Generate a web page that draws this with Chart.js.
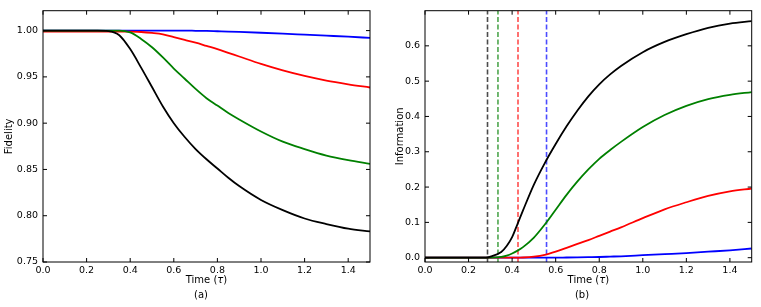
<!DOCTYPE html>
<html><head><meta charset="utf-8">
<script src="https://cdn.jsdelivr.net/npm/chart.js@4/dist/chart.umd.min.js"></script>
<style>
html,body{margin:0;padding:0;background:#fff;}
#wrap{position:relative;width:761px;height:307px;overflow:hidden;}
.box{position:absolute;top:0;height:307px;}
.cap{position:absolute;font:10px "DejaVu Sans",sans-serif;line-height:12px;color:#000;top:289px;width:40px;text-align:center;}
</style></head><body>
<div id="wrap">
<div class="box" style="left:0;width:380px"><canvas id="c1" width="380" height="307"></canvas></div>
<div class="box" style="left:380px;width:381px"><canvas id="c2" width="381" height="307"></canvas></div>
<div class="cap" style="left:181px">(a)</div>
<div class="cap" style="left:562px">(b)</div>
</div>
<script>
// ---- data ----
const TIME_FID = [0, 0.1, 0.2, 0.25, 0.3, 0.35, 0.4, 0.45, 0.5, 0.55, 0.6, 0.65, 0.7, 0.75, 0.8, 0.85, 0.9, 1.0, 1.1, 1.2, 1.3, 1.4, 1.5];
const FID_BLACK = [1, 1, 1, 1, 0.9995, 0.995, 0.980, 0.960, 0.939, 0.918, 0.900, 0.885, 0.872, 0.861, 0.851, 0.841, 0.832, 0.817, 0.806, 0.797, 0.791, 0.786, 0.783];
const FID_GREEN = [1, 1, 1, 1, 1, 1, 0.998, 0.991, 0.982, 0.971, 0.959, 0.948, 0.937, 0.927, 0.919, 0.911, 0.904, 0.891, 0.880, 0.872, 0.865, 0.860, 0.856];
const FID_RED   = [0.999, 0.999, 0.999, 0.999, 0.999, 0.999, 0.999, 0.9985, 0.9975, 0.996, 0.993, 0.990, 0.987, 0.9835, 0.980, 0.976, 0.972, 0.964, 0.957, 0.951, 0.946, 0.942, 0.9385];
const FID_BLUE  = [1, 1, 1, 1, 1, 1, 1, 1, 1, 1, 1, 1, 0.9998, 0.9996, 0.9993, 0.999, 0.9986, 0.9977, 0.9967, 0.9956, 0.9945, 0.9934, 0.9921];

const TIME_INFO = [0, 0.1, 0.2, 0.25, 0.28, 0.3, 0.35, 0.375, 0.4, 0.425, 0.45, 0.5, 0.55, 0.6, 0.65, 0.7, 0.75, 0.8, 0.85, 0.9, 1.0, 1.1, 1.2, 1.3, 1.4, 1.5];
const INFO_BLACK = [0, 0, 0, 0, 0, 0.003, 0.016, 0.033, 0.058, 0.096, 0.134, 0.207, 0.268, 0.322, 0.372, 0.417, 0.457, 0.491, 0.519, 0.543, 0.582, 0.611, 0.633, 0.651, 0.663, 0.670];
const INFO_GREEN = [0, 0, 0, 0, 0, 0, 0.002, 0.006, 0.012, 0.020, 0.030, 0.057, 0.094, 0.136, 0.178, 0.216, 0.250, 0.280, 0.305, 0.328, 0.370, 0.404, 0.430, 0.449, 0.461, 0.469];
const INFO_RED   = [0, 0, 0, 0, 0, 0, 0, 0, 0, 0, 0.0005, 0.003, 0.008, 0.017, 0.028, 0.039, 0.050, 0.062, 0.074, 0.086, 0.112, 0.137, 0.157, 0.175, 0.188, 0.196];
const INFO_BLUE  = [0, 0, 0, 0, 0, 0, 0, 0, 0, 0, 0, 0, 0, 0, 0.0005, 0.001, 0.0015, 0.002, 0.003, 0.004, 0.007, 0.010, 0.013, 0.017, 0.021, 0.026];

const THRESH_T = [0.287, 0.335, 0.427, 0.558];   // black, green, red, blue dashed markers

const X_TICKS = {min: 0, max: 1.5, step: 0.2};
const FID_TICKS = {min: 0.75, max: 1.0215, step: 0.05};
const INFO_TICKS = {min: -0.0122, max: 0.6995, step: 0.1};

const X_TITLE = ['Time (', 'τ', ')'];   // τ drawn in italic

// ---- styles ----
const FONT = 'DejaVu Sans';
const COLORS = {black: '#000000', green: '#008000', red: '#ff0000', blue: '#0000ff'};
const DASH_COLORS = ['rgba(0,0,0,0.7)', 'rgba(0,128,0,0.7)', 'rgba(255,0,0,0.7)', 'rgba(0,0,255,0.7)'];

function series(ts, ys) { return ts.map((t, i) => ({x: t, y: ys[i]})); }
function line(ts, ys, color) {
  return {data: series(ts, ys), borderColor: color, borderWidth: 1.8, pointRadius: 0,
          cubicInterpolationMode: 'monotone', fill: false};
}

const frameTicks = {
  id: 'frameTicks',
  afterDatasetsDraw(chart) {
    const {ctx, chartArea: a, scales: {x, y}} = chart;
    ctx.save();
    ctx.strokeStyle = '#000';
    ctx.lineWidth = 1;
    ctx.strokeRect(a.left, a.top, a.right - a.left, a.bottom - a.top);
    const L = 4;
    ctx.beginPath();
    x.ticks.forEach(t => {
      const p = x.getPixelForValue(t.value);
      ctx.moveTo(p, a.bottom); ctx.lineTo(p, a.bottom - L);
      ctx.moveTo(p, a.top); ctx.lineTo(p, a.top + L);
    });
    y.ticks.forEach(t => {
      const p = y.getPixelForValue(t.value);
      ctx.moveTo(a.left, p); ctx.lineTo(a.left + L, p);
      ctx.moveTo(a.right, p); ctx.lineTo(a.right - L, p);
    });
    ctx.stroke();
    // x-axis title with italic tau
    const fonts = ['10px "' + FONT + '"', 'italic 10px "' + FONT + '"', '10px "' + FONT + '"'];
    let total = 0;
    const widths = X_TITLE.map((s, i) => { ctx.font = fonts[i]; const w = ctx.measureText(s).width; total += w; return w; });
    let cx = (a.left + a.right) / 2 - total / 2;
    ctx.fillStyle = '#000';
    ctx.textBaseline = 'middle';
    ctx.textAlign = 'left';
    X_TITLE.forEach((s, i) => { ctx.font = fonts[i]; ctx.fillText(s, cx, 280); cx += widths[i]; });
    ctx.restore();
  }
};

function xScale() {
  return {
    type: 'linear', min: X_TICKS.min, max: X_TICKS.max,
    ticks: {stepSize: X_TICKS.step, includeBounds: false, padding: 3, autoSkip: false, maxRotation: 0,
            color: '#000', font: {family: FONT, size: 9.5}, callback: v => v.toFixed(1)},
    grid: {display: false, drawTicks: false}, border: {display: false},
    title: {display: false},
    afterFit(s) { s.height = 45; }
  };
}
function yScale(tk, title, width, titlePad, dec) {
  return {
    type: 'linear', min: tk.min, max: tk.max,
    ticks: {stepSize: tk.step, includeBounds: false, padding: 5, autoSkip: false,
            color: '#000', font: {family: FONT, size: 9.5}, callback: v => v.toFixed(dec)},
    grid: {display: false, drawTicks: false}, border: {display: false},
    title: {display: true, text: title, color: '#000', font: {family: FONT, size: 10},
            padding: {top: titlePad, bottom: 0}},
    afterFit(s) { s.width = width; }
  };
}
function baseOptions(padRight, yS) {
  return {
    responsive: false, animation: false, events: [],
    layout: {padding: {left: 0, right: padRight, top: 7, bottom: 0}},
    plugins: {legend: {display: false}, tooltip: {enabled: false}},
    scales: {x: xScale(), y: yS}
  };
}

new Chart(document.getElementById('c1'), {
  type: 'line',
  data: {datasets: [
    line(TIME_FID, FID_BLACK, COLORS.black),
    line(TIME_FID, FID_GREEN, COLORS.green),
    line(TIME_FID, FID_RED, COLORS.red),
    line(TIME_FID, FID_BLUE, COLORS.blue)
  ]},
  options: baseOptions(10, yScale(FID_TICKS, 'Fidelity', 43, 3, 2)),
  plugins: [frameTicks]
});

const dashed = THRESH_T.map((t, i) => ({
  data: [{x: t, y: INFO_TICKS.min}, {x: t, y: INFO_TICKS.max}],
  borderColor: DASH_COLORS[i], borderWidth: 1.6, borderDash: [5, 2.5], pointRadius: 0, fill: false
}));

new Chart(document.getElementById('c2'), {
  type: 'line',
  data: {datasets: [
    line(TIME_INFO, INFO_BLACK, COLORS.black),
    line(TIME_INFO, INFO_GREEN, COLORS.green),
    line(TIME_INFO, INFO_RED, COLORS.red),
    line(TIME_INFO, INFO_BLUE, COLORS.blue),
    ...dashed
  ]},
  options: baseOptions(9.3, yScale(INFO_TICKS, 'Information', 45, 14.7, 1)),
  plugins: [frameTicks]
});
</script>
</body></html>
